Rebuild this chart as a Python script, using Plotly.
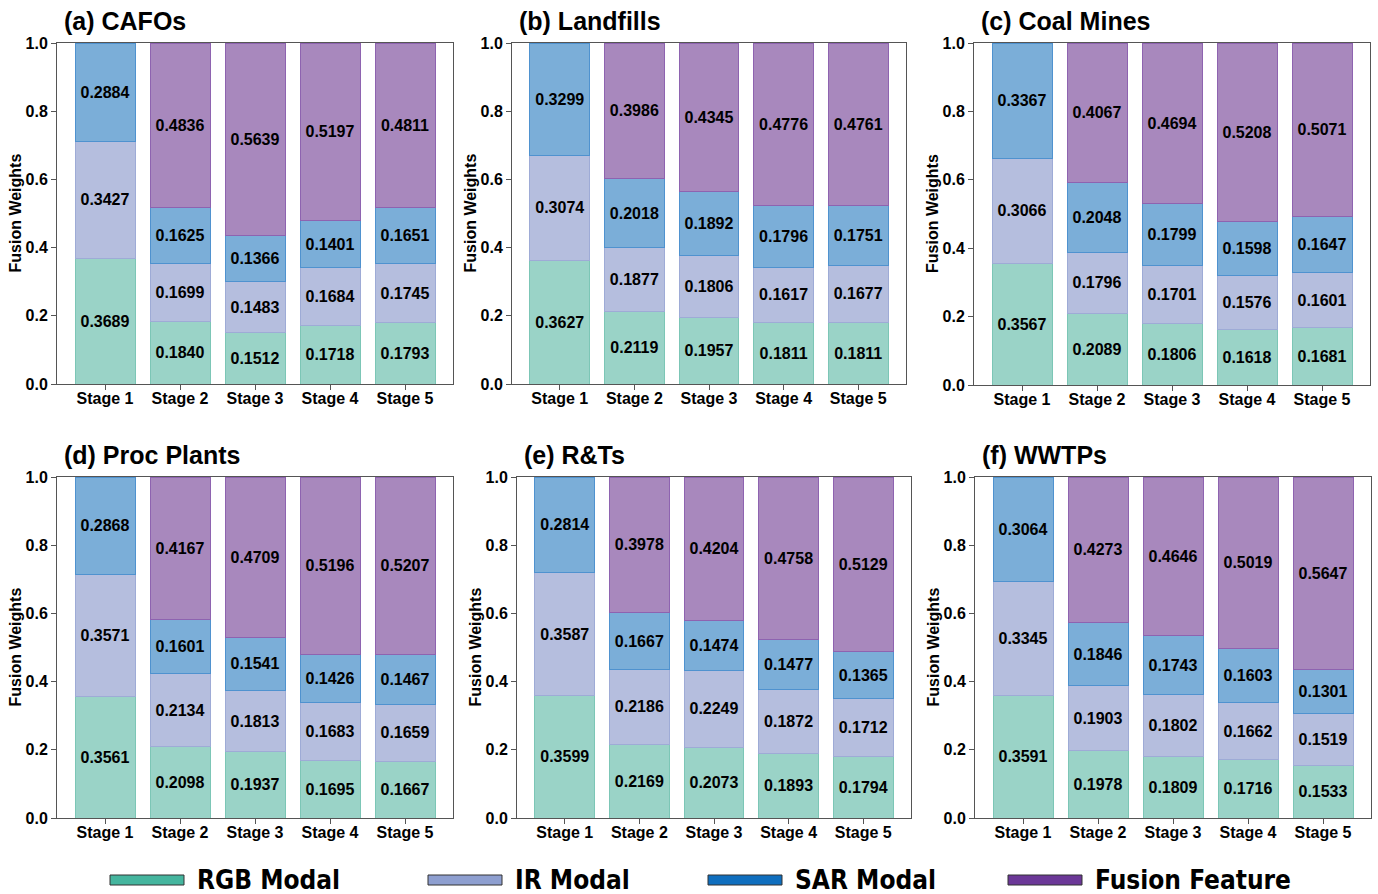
import plotly.graph_objects as go

W, H = 1378, 894

stages = ["Stage 1", "Stage 2", "Stage 3", "Stage 4", "Stage 5"]
panel_titles = ["(a) CAFOs", "(b) Landfills", "(c) Coal Mines",
                "(d) Proc Plants", "(e) R&Ts", "(f) WWTPs"]
y_ticks = [0.0, 0.2, 0.4, 0.6, 0.8, 1.0]

# Fusion weights per facility type (stage 1 has no fusion branch)
rgb_cafos = [0.3689, 0.1840, 0.1512, 0.1718, 0.1793]
ir_cafos = [0.3427, 0.1699, 0.1483, 0.1684, 0.1745]
sar_cafos = [0.2884, 0.1625, 0.1366, 0.1401, 0.1651]
fus_cafos = [None, 0.4836, 0.5639, 0.5197, 0.4811]

rgb_landfills = [0.3627, 0.2119, 0.1957, 0.1811, 0.1811]
ir_landfills = [0.3074, 0.1877, 0.1806, 0.1617, 0.1677]
sar_landfills = [0.3299, 0.2018, 0.1892, 0.1796, 0.1751]
fus_landfills = [None, 0.3986, 0.4345, 0.4776, 0.4761]

rgb_coal = [0.3567, 0.2089, 0.1806, 0.1618, 0.1681]
ir_coal = [0.3066, 0.1796, 0.1701, 0.1576, 0.1601]
sar_coal = [0.3367, 0.2048, 0.1799, 0.1598, 0.1647]
fus_coal = [None, 0.4067, 0.4694, 0.5208, 0.5071]

rgb_proc = [0.3561, 0.2098, 0.1937, 0.1695, 0.1667]
ir_proc = [0.3571, 0.2134, 0.1813, 0.1683, 0.1659]
sar_proc = [0.2868, 0.1601, 0.1541, 0.1426, 0.1467]
fus_proc = [None, 0.4167, 0.4709, 0.5196, 0.5207]

rgb_rts = [0.3599, 0.2169, 0.2073, 0.1893, 0.1794]
ir_rts = [0.3587, 0.2186, 0.2249, 0.1872, 0.1712]
sar_rts = [0.2814, 0.1667, 0.1474, 0.1477, 0.1365]
fus_rts = [None, 0.3978, 0.4204, 0.4758, 0.5129]

rgb_wwtps = [0.3591, 0.1978, 0.1809, 0.1716, 0.1533]
ir_wwtps = [0.3345, 0.1903, 0.1802, 0.1662, 0.1519]
sar_wwtps = [0.3064, 0.1846, 0.1743, 0.1603, 0.1301]
fus_wwtps = [None, 0.4273, 0.4646, 0.5019, 0.5647]

panels = [
    (rgb_cafos, ir_cafos, sar_cafos, fus_cafos),
    (rgb_landfills, ir_landfills, sar_landfills, fus_landfills),
    (rgb_coal, ir_coal, sar_coal, fus_coal),
    (rgb_proc, ir_proc, sar_proc, fus_proc),
    (rgb_rts, ir_rts, sar_rts, fus_rts),
    (rgb_wwtps, ir_wwtps, sar_wwtps, fus_wwtps),
]

series_names = ["RGB Modal", "IR Modal", "SAR Modal", "Fusion Feature"]
fill_colors = ["#9AD3C7", "#B5BEDE", "#7BAED8", "#A888BD"]
edge_colors = ["#7CC6B6", "#9EABD6", "#4F92CF", "#8E63B0"]
legend_colors = ["#45B59E", "#8E9FD0", "#0F6EBE", "#6B3797"]

# plot-area boxes in pixels: left, right, top, bottom
boxes = [
    (57, 453, 43, 384), (512, 906, 43, 384), (974, 1370, 43, 385),
    (57, 453, 477, 818), (517, 911, 477, 818), (975, 1371, 477, 818),
]

FONT = "Arial, Liberation Sans, sans-serif"
AXIS_COLOR = "#555555"

fig = go.Figure()
layout_axes = {}
annotations = []

for i, (vals, box) in enumerate(zip(panels, boxes)):
    k = i + 1
    xa = "x" if k == 1 else f"x{k}"
    ya = "y" if k == 1 else f"y{k}"
    for name, v, fc, ec in zip(series_names, vals, fill_colors, edge_colors):
        fig.add_trace(go.Bar(
            x=stages, y=v, name=name, xaxis=xa, yaxis=ya,
            marker=dict(color=fc, line=dict(color=ec, width=1)),
            texttemplate="%{y:.4f}", textposition="inside",
            insidetextanchor="middle", constraintext="none", textangle=0,
            textfont=dict(family=FONT, size=16, color="black", weight="bold"),
            showlegend=False, width=0.8,
        ))
    left, right, top, bottom = box
    xdom = [left / W, right / W]
    ydom = [1 - bottom / H, 1 - top / H]
    common = dict(showline=True, linecolor=AXIS_COLOR, linewidth=1, mirror=True,
                  ticks="outside", ticklen=5, tickcolor=AXIS_COLOR,
                  showgrid=False, zeroline=False, automargin=False,
                  tickfont=dict(family=FONT, size=16, color="black", weight="bold"))
    layout_axes["xaxis" if k == 1 else f"xaxis{k}"] = dict(
        domain=xdom, anchor=ya, range=[-0.64, 4.64], type="category",
        ticklabelstandoff=-5, **common)
    layout_axes["yaxis" if k == 1 else f"yaxis{k}"] = dict(
        domain=ydom, anchor=xa, range=[0, 1], tickvals=y_ticks,
        tickformat=".1f", **common)
    annotations.append(dict(
        text=panel_titles[i], xref="paper", yref="paper",
        x=(left + 5) / W, y=1 - (top - 22) / H, xanchor="left", yanchor="middle",
        showarrow=False,
        font=dict(family=FONT, size=25, color="black", weight="bold")))
    annotations.append(dict(
        text="Fusion Weights", xref="paper", yref="paper",
        x=(left - 42) / W, y=1 - (top + bottom) / 2 / H, textangle=-90,
        xanchor="center", yanchor="middle", showarrow=False,
        font=dict(family=FONT, size=16, color="black", weight="bold")))

# legend drawn along the bottom edge
shapes = []
legend_x = [110, 428, 708, 1008]
patch_w = 74
patch_top, patch_bot = 875, 885
for name, lx, lc in zip(series_names, legend_x, legend_colors):
    shapes.append(dict(type="rect", xref="paper", yref="paper",
                       x0=lx / W, x1=(lx + patch_w) / W,
                       y0=1 - patch_bot / H, y1=1 - patch_top / H,
                       fillcolor=lc, line=dict(color="#333333", width=1)))
    annotations.append(dict(
        text=name, xref="paper", yref="paper",
        x=(lx + patch_w + 11) / W, y=1 - 880 / H,
        xanchor="left", yanchor="middle", showarrow=False,
        font=dict(family="Liberation Sans Narrow, DejaVu Sans Condensed, Arial Narrow",
                  size=26, color="black", weight="bold")))

fig.update_layout(
    width=W, height=H, autosize=False,
    margin=dict(l=0, r=0, t=0, b=0, autoexpand=False),
    paper_bgcolor="white", plot_bgcolor="white",
    barmode="stack", bargap=0.2, showlegend=False,
    annotations=annotations, shapes=shapes,
    uniformtext=dict(mode=False),
    **layout_axes,
)

fig.write_html("out.html")
